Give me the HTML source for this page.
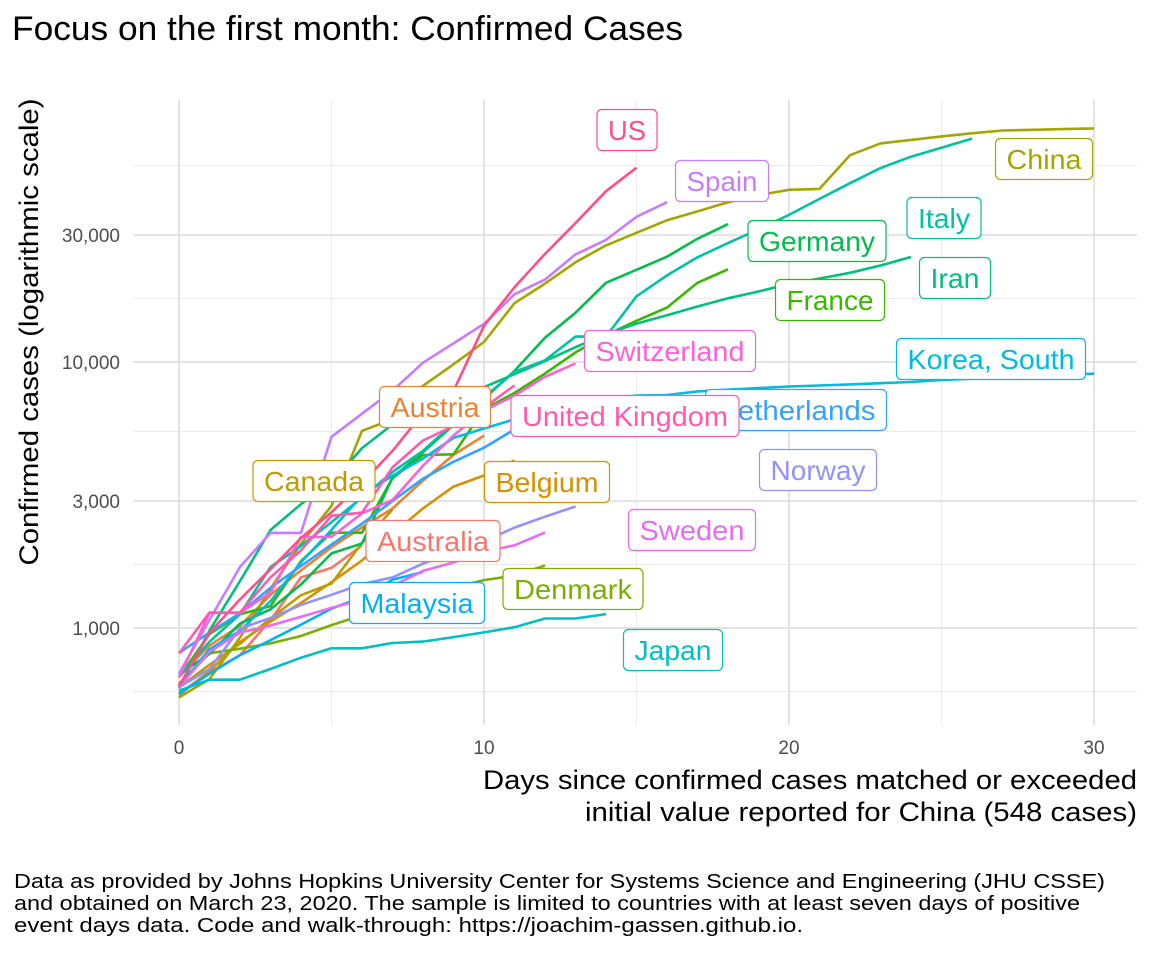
<!DOCTYPE html>
<html><head><meta charset="utf-8">
<style>
html,body{margin:0;padding:0;background:#fff;}
svg{display:block;font-family:"Liberation Sans",Arial,sans-serif;}
</style></head>
<body>
<svg id="chart" width="1152" height="960" viewBox="0 0 1152 960">
<text x="12" y="40" font-size="34" textLength="671" lengthAdjust="spacingAndGlyphs" fill="#000">Focus on the first month: Confirmed Cases</text>
<g id="grid"></g>
<g id="ticks"></g>
<g id="lines"></g>
<g id="labels"></g>
<text transform="translate(38,332) rotate(-90)" text-anchor="middle" font-size="27" textLength="467" lengthAdjust="spacingAndGlyphs" fill="#000">Confirmed cases (logarithmic scale)</text>
<text x="1137" y="789" text-anchor="end" font-size="27" textLength="654" lengthAdjust="spacingAndGlyphs" fill="#000">Days since confirmed cases matched or exceeded</text>
<text x="1137" y="821" text-anchor="end" font-size="27" textLength="552" lengthAdjust="spacingAndGlyphs" fill="#000">initial value reported for China (548 cases)</text>
<g font-size="20" fill="#000">
<text x="14" y="888" textLength="1091" lengthAdjust="spacingAndGlyphs">Data as provided by Johns Hopkins University Center for Systems Science and Engineering (JHU CSSE)</text>
<text x="14" y="910" textLength="1066" lengthAdjust="spacingAndGlyphs">and obtained on March 23, 2020. The sample is limited to countries with at least seven days of positive</text>
<text x="14" y="932" textLength="789" lengthAdjust="spacingAndGlyphs">event days data. Code and walk-through: https://joachim-gassen.github.io.</text>
</g>
</svg>
<script>
const countries = ["Australia","Austria","Belgium","Canada","China","Denmark","France","Germany","Iran","Italy","Japan","Korea, South","Malaysia","Netherlands","Norway","Spain","Sweden","Switzerland","US","United Kingdom"];
const colors = ["#F8766D","#EA8331","#D89000","#C09B00","#A3A500","#7CAE00","#39B600","#00BB4E","#00BF7D","#00C1A3","#00BFC4","#00BAE0","#00B0F6","#35A2FF","#9590FF","#C77CFF","#E76BF3","#FA62DB","#FF4F86","#FF5AAE"];
const australia = [568,681,791,1071,1549,1682,2044];
const austria = [655,860,1018,1332,1646,2013,2388,2814,3582,4474,5283];
const belgium = [559,689,886,1058,1243,1486,1795,2257,2815,3401,3743,4269];
const canada = [598,727,873,1087,1328,1470,2088,2790];
const china = [548,643,920,1406,2075,2877,5509,6087,8141,9802,11891,16630,19716,23707,27440,30587,34110,36814,39829,42354,44386,44759,59895,66358,68413,70513,72434,74211,74619,75077,75550];
const denmark = [617,804,836,875,933,1025,1116,1225,1337,1420,1514,1572,1718];
const france = [653,949,1126,1209,1784,2281,2281,3661,4469,4499,6633,7652,9043,10871,12612,14282,16018,19856,22304];
const germany = [670,799,1040,1176,1457,1908,2078,3675,4585,5795,7272,9257,12327,15320,19848,22213,24873,29056,32986];
const iran = [593,978,1501,2336,2922,3513,4747,5823,6566,7161,8042,9000,10075,11364,12729,13938,14991,16169,17361,18407,19644,20610,21638,23049,24811];
const italy = [655,888,1128,1694,2036,2502,3089,3858,4636,5883,7375,9172,10149,12462,12462,17660,21157,24747,27980,31506,35713,41035,47021,53578,59138,63927,69176];
const japan = [581,639,639,701,773,839,839,878,889,924,963,1007,1086,1086,1128];
const korea = [602,833,977,1261,1766,2337,3150,3736,4335,5186,5621,6088,6593,7041,7314,7478,7513,7755,7869,7979,8086,8162,8236,8320,8413,8565,8652,8799,8897,8961,9037];
const malaysia = [566,673,790,900,1030,1183,1306,1518,1624];
const netherlands = [806,962,1138,1416,1711,2058,2467,3003,3640,4216,4764,5580];
const norway = [598,702,996,1090,1221,1333,1463,1550,1746,1914,2118,2385,2621,2863];
const spain = [673,1073,1695,2277,2277,5232,6391,7798,9942,11748,13910,17963,20410,25374,28768,35136,39885];
const sweden = [599,814,961,1022,1103,1190,1279,1439,1639,1763,1934,2046,2286];
const switzerland = [652,1139,1139,1359,2200,2200,2700,3028,4075,5294,6575,7474,8795,9877];
const us = [605,959,1281,1663,2179,2726,3499,4632,6421,7786,13680,19101,25493,33276,43847,53740];
const uk = [802,1144,1145,1551,1960,2642,2716,4014,5067,5745,6726,8164];
const series = [australia,austria,belgium,canada,china,denmark,france,germany,iran,italy,japan,korea,malaysia,netherlands,norway,spain,sweden,switzerland,us,uk];
const xTicks = [0,10,20,30];
const xMinor = [5,15,25];
const yTicks = [1000,3000,10000,30000];
const yTickLabels = ["1,000","3,000","10,000","30,000"];
const yMinor = [577,1732,5477,17321,54772];

const NS = "http://www.w3.org/2000/svg";
const X0 = 179, XPD = 30.5;
const Y3 = 628, YPDEC = 266;
const PL = 133, PR = 1137, PT = 100, PB = 725;
function sx(d){ return X0 + d * XPD; }
function sy(v){ return Y3 - (Math.log10(v) - 3) * YPDEC; }
function mk(tag, attrs, parent){
  const e = document.createElementNS(NS, tag);
  for (const k in attrs) e.setAttribute(k, attrs[k]);
  parent.appendChild(e);
  return e;
}
const grid = document.getElementById("grid");
const ticks = document.getElementById("ticks");
yMinor.forEach(v => { const y = sy(v); if (y < PT || y > PB) return;
  const l = mk("line", {x1:PL, x2:PR, y1:y, y2:y, stroke:"#ebebeb", "stroke-width":1}, grid);
  
  
});
xMinor.forEach(d => {
  const l = mk("line", {x1:sx(d), x2:sx(d), y1:PT, y2:PB, stroke:"#ebebeb", "stroke-width":1}, grid);
  
  
});
yTicks.forEach((v, i) => { const y = sy(v);
  const l = mk("line", {x1:PL, x2:PR, y1:y, y2:y, stroke:"#e3e3e3", "stroke-width":2}, grid);
  
  
  const t = mk("text", {x:120, y:y + 7, "text-anchor":"end", "font-size":19, fill:"#4d4d4d"}, ticks);
  t.textContent = yTickLabels[i];
  
  
});
xTicks.forEach(d => { const x = sx(d);
  const l = mk("line", {x1:x, x2:x, y1:PT, y2:PB, stroke:"#e3e3e3", "stroke-width":2}, grid);
  
  
  const t = mk("text", {x:x, y:754, "text-anchor":"middle", "font-size":19, fill:"#4d4d4d"}, ticks);
  t.textContent = d;
  
  
});
const lines = document.getElementById("lines");
series.forEach((s, i) => {
  const pts = s.map((v, d) => sx(d).toFixed(1) + "," + sy(v).toFixed(1)).join(" ");
  const p = mk("polyline", {points:pts, fill:"none", stroke:colors[i], "stroke-width":2.6, "stroke-linejoin":"round"}, lines);
  
  
});
// label annotation positions (center x, center y, box width)
const labelPos = {
  "US":[627,130,60],"Spain":[722,181,93],"China":[1044,159,97],"Italy":[944,218,74],
  "Germany":[817,241,138],"Iran":[955,278,71],"France":[830,300,109],"Switzerland":[670,351,171],
  "Korea, South":[991,359,189],"Austria":[435,407,111],"Netherlands":[796,410,181],
  "Canada":[314,481,122],"Belgium":[547,482,125],"Norway":[818,470,117],"Sweden":[692,530,127],
  "Australia":[433,541,134],"Denmark":[573,589,140],"Malaysia":[417,603,135],"Japan":[673,650,99],
  "United Kingdom":[625,416,228]
};
const order = ["China","Italy","Iran","Korea, South","Germany","France","Spain","US","Netherlands","Switzerland","Norway","Sweden","Japan","Austria","United Kingdom","Belgium","Canada","Australia","Denmark","Malaysia"];
const labels = document.getElementById("labels");
order.forEach(name => {
  const i = countries.indexOf(name); const [cx, cy, w] = labelPos[name];
  const g = mk("g", {}, labels);
  
  
  mk("rect", {x:cx - w/2, y:cy - 20.5, width:w, height:41, rx:5, fill:"#fff", stroke:colors[i], "stroke-width":1.2}, g);
  const t = mk("text", {x:cx, y:cy + 10, "text-anchor":"middle", "font-size":27.5, textLength:(w - 22), lengthAdjust:"spacingAndGlyphs", fill:colors[i]}, g);
  t.textContent = name;
});
</script>
</body></html>
